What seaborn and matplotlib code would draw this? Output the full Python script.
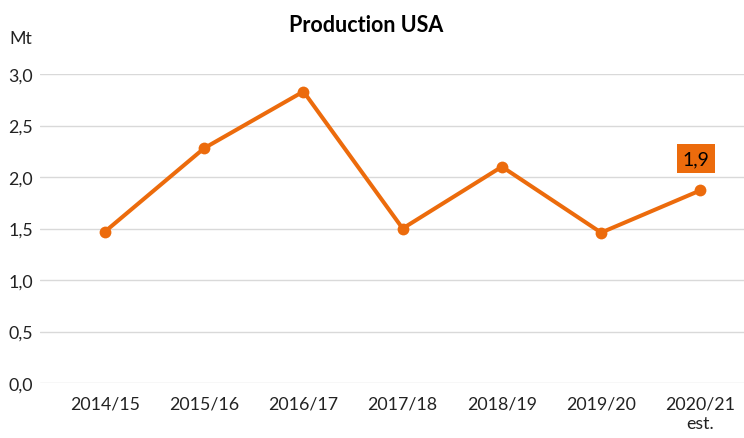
import matplotlib
matplotlib.use("Agg")
import matplotlib.pyplot as plt
import seaborn as sns
import pandas as pd

seasons = ["2014/15", "2015/16", "2016/17", "2017/18", "2018/19", "2019/20", "2020/21\nest."]
production = [1.47, 2.28, 2.83, 1.50, 2.10, 1.46, 1.87]
y_ticks = [0.0, 0.5, 1.0, 1.5, 2.0, 2.5, 3.0]

sns.set_theme(style="white")
plt.rcParams["font.family"] = ["Lato", "DejaVu Sans"]

orange = "#EC6B0C"
df = pd.DataFrame({"pos": range(len(seasons)), "value": production})

fig = plt.figure(figsize=(7.44, 4.39), dpi=100)
ax = fig.add_axes([40 / 744, 1 - 384 / 439, 1 - 40 / 744, (384 - 75) / 439])

sns.lineplot(data=df, x="pos", y="value", ax=ax, color=orange, linewidth=2.9,
             marker="o", markersize=8.5, markeredgewidth=0, zorder=3)

ax.set_xlim(-0.655, 6.44)
ax.set_ylim(0, 3.0)
ax.set_yticks(y_ticks)
ax.set_yticklabels([f"{v:.1f}".replace(".", ",") for v in y_ticks])
ax.set_xticks(range(len(seasons)))
ax.set_xticklabels(seasons, linespacing=1.3)
ax.yaxis.grid(True, color="#D9D9D9", linewidth=1)
ax.xaxis.grid(False)
for s in ax.spines.values():
    s.set_visible(False)
ax.tick_params(axis="both", length=0, labelsize=12.8, colors="#222222")
ax.tick_params(axis="y", pad=5)
ax.tick_params(axis="x", pad=9)
ax.set_xlabel("")
ax.set_ylabel("")

# value label on the last point
last = production[-1]
ax.annotate(f"{last:.1f}".replace(".", ","), xy=(len(seasons) - 1, last),
            xytext=(-3, 23), textcoords="offset points", ha="center", va="center",
            fontsize=14, color="black",
            bbox=dict(boxstyle="square,pad=0.3", facecolor=orange, edgecolor="none"))

fig.text(366 / 744, 1 - 25 / 439, "Production USA", ha="center", va="center",
         fontsize=15.5, fontweight="bold", color="black")
fig.text(21 / 744, 1 - 39 / 439, "Mt", ha="center", va="center",
         fontsize=12.8, color="#222222")

fig.savefig("out.png", dpi=100, facecolor="white")
